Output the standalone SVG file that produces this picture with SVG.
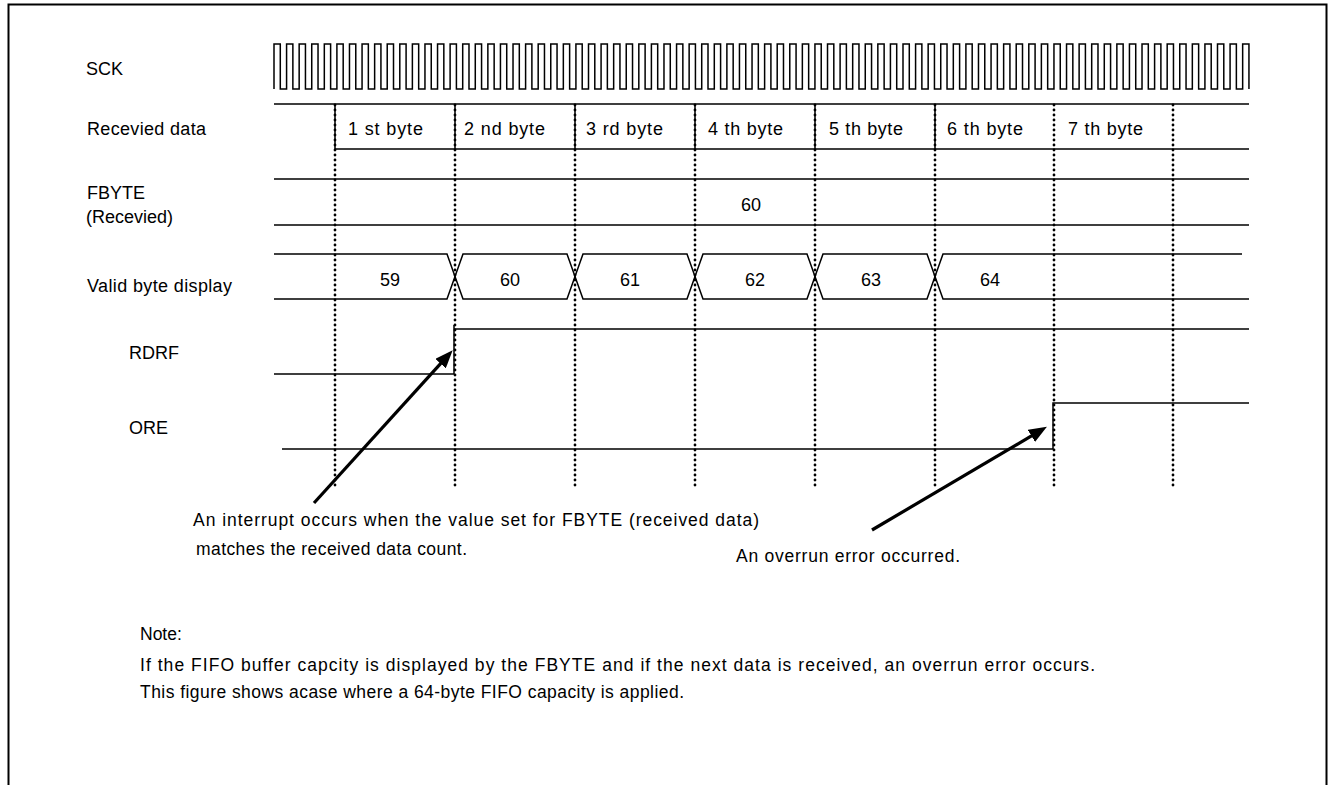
<svg xmlns="http://www.w3.org/2000/svg" width="1334" height="785" viewBox="0 0 1334 785">
<style>
text{font-family:"Liberation Sans",Arial,Helvetica,sans-serif;font-size:18px;fill:#000}
.sm{font-size:17.5px}
.w{fill:none;stroke:#000;stroke-width:1.5}
.dot{fill:none;stroke:#000;stroke-width:2.8;stroke-dasharray:0 5;stroke-linecap:round}
.arr{fill:none;stroke:#000;stroke-width:3.2}
.mid{text-anchor:middle}
</style>
<defs>
<marker id="ah" viewBox="0 0 18 14" refX="3" refY="7" markerWidth="18" markerHeight="14" markerUnits="userSpaceOnUse" orient="auto">
<path d="M0,0 L18,7 L0,14 z" fill="#000"/>
</marker>
</defs>
<rect x="8.5" y="4.5" width="1318" height="830" fill="none" stroke="#000" stroke-width="2"/>

<g id="labels">
<text x="86" y="75">SCK</text>
<text x="87" y="135" textLength="119" lengthAdjust="spacing">Recevied data</text>
<text x="87" y="199">FBYTE</text>
<text x="86" y="223" textLength="87" lengthAdjust="spacing">(Recevied)</text>
<text x="87" y="292" textLength="145" lengthAdjust="spacing">Valid byte display</text>
<text x="129" y="359">RDRF</text>
<text x="129" y="434">ORE</text>
</g>

<g id="sck">
<path class="w" d="M274,89 V44h6.29V89h6.29V44h6.29V89h6.29V44h6.29V89h6.29V44h6.29V89h6.29V44h6.29V89h6.29V44h6.29V89h6.29V44h6.29V89h6.29
V44h6.29V89h6.29V44h6.29V89h6.29V44h6.29V89h6.29V44h6.29V89h6.29V44h6.29V89h6.29V44h6.29V89h6.29V44h6.29V89h6.29
V44h6.29V89h6.29V44h6.29V89h6.29V44h6.29V89h6.29V44h6.29V89h6.29V44h6.29V89h6.29V44h6.29V89h6.29V44h6.29V89h6.29
V44h6.29V89h6.29V44h6.29V89h6.29V44h6.29V89h6.29V44h6.29V89h6.29V44h6.29V89h6.29V44h6.29V89h6.29V44h6.29V89h6.29
V44h6.29V89h6.29V44h6.29V89h6.29V44h6.29V89h6.29V44h6.29V89h6.29V44h6.29V89h6.29V44h6.29V89h6.29V44h6.29V89h6.29
V44h6.29V89h6.29V44h6.29V89h6.29V44h6.29V89h6.29V44h6.29V89h6.29V44h6.29V89h6.29V44h6.29V89h6.29V44h6.29V89h6.29
V44h6.29V89h6.29V44h6.29V89h6.29V44h6.29V89h6.29V44h6.29V89h6.29V44h6.29V89h6.29V44h6.29V89h6.29V44h6.29V89h6.29
V44h6.29V89h6.29V44h6.29V89h6.29V44h6.29V89h6.29V44h6.29V89h6.29V44h6.29V89h6.29V44h6.29V89h6.29V44h6.29V89h6.29
V44h6.29V89h6.29V44h6.29V89h6.29V44h6.29V89h6.29V44h6.29V89h6.29V44h6.29V89h6.29V44h6.29V89h6.29V44h6.29V89h6.29
V44h6.29V89h6.29V44h6.29V89h6.29V44h6.29V89h6.29V44h6.29V89h6.29V44h6.29V89h6.29V44h6.29V89h6.29V44h6.29V89h6.29
V44h6.29V89h6.29V44h6.29V89h6.29V44h6.29V89h6.29V44h6.29V89h6.29V44h6.29V89h6.29V44h6.29V89h6.29V44h6.29V89h6.29
V44h6.29V89"/>
</g>

<g id="received-data">
<path class="w" d="M274,104 H1249 M335,149 H1249 M335,104 V149 M455,104 V149 M575,104 V149 M695,104 V149 M815,104 V149 M935,104 V149"/>
<text x="348" y="135" textLength="75" lengthAdjust="spacing">1 st byte</text>
<text x="464" y="135" textLength="81" lengthAdjust="spacing">2 nd byte</text>
<text x="586" y="135" textLength="77" lengthAdjust="spacing">3 rd byte</text>
<text x="708" y="135" textLength="75" lengthAdjust="spacing">4 th byte</text>
<text x="829" y="135" textLength="74" lengthAdjust="spacing">5 th byte</text>
<text x="947" y="135" textLength="76" lengthAdjust="spacing">6 th byte</text>
<text x="1068" y="135" textLength="75" lengthAdjust="spacing">7 th byte</text>
</g>

<g id="fbyte">
<path class="w" d="M274,179 H1249 M274,225 H1249"/>
<text class="mid" x="751" y="211">60</text>
</g>

<g id="valid-byte">
<path class="w" d="M274,254 H447 L463,299 H567 L583,254 H687 L703,299 H807 L823,254 H927 L943,299 H1249"/>
<path class="w" d="M274,299 H447 L463,254 H567 L583,299 H687 L703,254 H807 L823,299 H927 L943,254 H1242"/>
<text class="mid" x="390" y="286">59</text>
<text class="mid" x="510" y="286">60</text>
<text class="mid" x="630" y="286">61</text>
<text class="mid" x="755" y="286">62</text>
<text class="mid" x="871" y="286">63</text>
<text class="mid" x="990" y="286">64</text>
</g>

<g id="rdrf">
<path class="w" d="M274,374 H454 V325 M454,329 H1249"/>
</g>

<g id="ore">
<path class="w" d="M282,449 H1053 V403 H1249"/>
</g>

<g id="connectors">
<path class="dot" d="M335,105 V487 M455,105 V487 M575,105 V487 M695,105 V487 M815,105 V487 M935,105 V487 M1054,105 V487 M1173,105 V487"/>
<line class="arr" x1="314" y1="503" x2="442.6" y2="361.4" marker-end="url(#ah)"/>
<line class="arr" x1="872" y1="530" x2="1034" y2="434.4" marker-end="url(#ah)"/>
</g>

<g id="notes">
<text class="sm" x="193" y="526" textLength="566" lengthAdjust="spacing">An interrupt occurs when the value set for FBYTE (received data)</text>
<text class="sm" x="196" y="555" textLength="271" lengthAdjust="spacing">matches the received data count.</text>
<text class="sm" x="736" y="562" textLength="224" lengthAdjust="spacing">An overrun error occurred.</text>
<text class="sm" x="140" y="640">Note:</text>
<text class="sm" x="140" y="671" textLength="955" lengthAdjust="spacing">If the FIFO buffer capcity is displayed by the FBYTE and if the next data is received, an overrun error occurs.</text>
<text class="sm" x="140" y="698" textLength="544" lengthAdjust="spacing">This figure shows acase where a 64-byte FIFO capacity is applied.</text>
</g>
</svg>
